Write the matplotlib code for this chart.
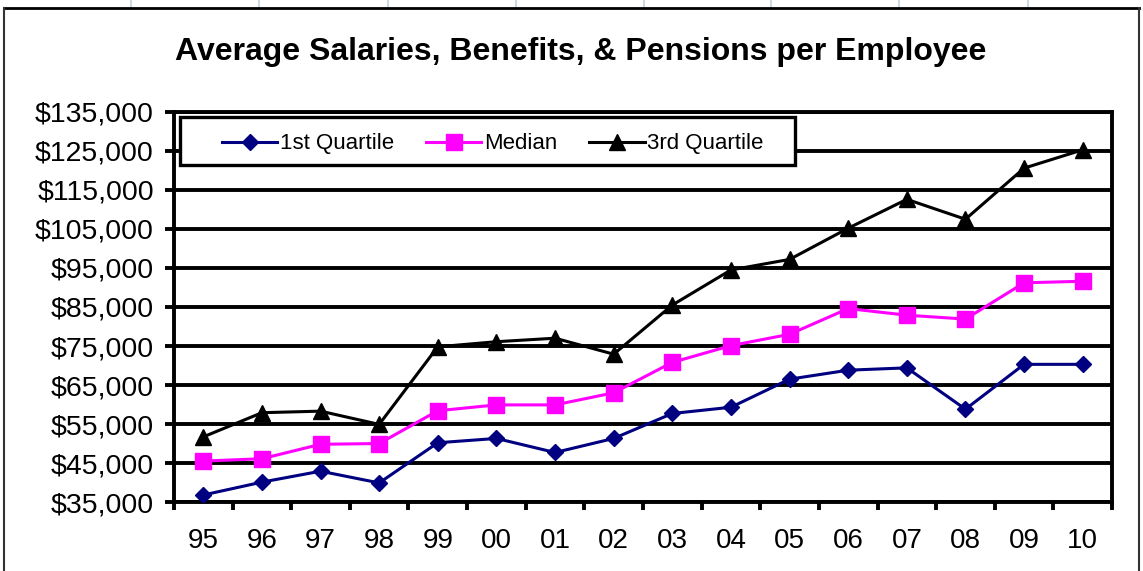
import numpy as np
import matplotlib.pyplot as plt
from matplotlib.lines import Line2D
from matplotlib.patches import Rectangle
from matplotlib.ticker import FuncFormatter, FixedLocator

plt.rcParams['font.family'] = ['Liberation Sans', 'DejaVu Sans']

# Data
years = ['95', '96', '97', '98', '99', '00', '01', '02',
         '03', '04', '05', '06', '07', '08', '09', '10']
q1 = [36800, 40100, 42900, 39900, 50200, 51300, 47700, 51300,
      57700, 59300, 66500, 68800, 69400, 58800, 70300, 70300]
median = [45500, 46100, 49800, 50000, 58400, 59900, 59900, 63000,
          70800, 75100, 78000, 84600, 82900, 81900, 91200, 91600]
q3 = [51700, 57900, 58300, 54900, 74800, 76100, 77000, 72900,
      85500, 94500, 97200, 105200, 112600, 107500, 120600, 125300]

y_ticks = np.arange(35000, 135001, 10000)

fig = plt.figure(figsize=(11.43, 5.71), dpi=100)
ax = fig.add_axes([0.1522, 0.1208, 0.8207, 0.6831])

x = np.arange(len(years))
ax.plot(x, q1, color='#000080', lw=2.2, marker='D', ms=8, label='1st Quartile', zorder=5)
ax.plot(x, median, color='#FF00FF', lw=2.2, marker='s', ms=12, label='Median', zorder=5)
ax.plot(x, q3, color='black', lw=2.2, marker='^', ms=11, label='3rd Quartile', zorder=5)

ax.set_xlim(-0.5, len(years) - 0.5)
ax.set_ylim(y_ticks[0], y_ticks[-1])
ax.set_yticks(y_ticks)
ax.yaxis.set_major_formatter(FuncFormatter(lambda v, p: '${:,.0f}'.format(v)))
ax.yaxis.grid(True, color='black', lw=2.8)
ax.set_axisbelow(True)

ax.set_xticks(x)
ax.set_xticklabels(years)
ax.xaxis.set_minor_locator(FixedLocator(np.arange(-0.5, len(years), 1.0)))
ax.tick_params(axis='x', which='major', length=0, pad=19, labelsize=20)
ax.tick_params(axis='x', which='minor', length=6, width=2.8, direction='out')
ax.tick_params(axis='y', length=6.5, width=2.8, pad=8, labelsize=20.5)

for s in ax.spines.values():
    s.set_linewidth(2.8)

# legend box drawn separately so the frame can be wider than its entries
ax.add_patch(Rectangle((0.0064, 0.864), 0.656, 0.123, transform=ax.transAxes,
                       facecolor='white', edgecolor='black', lw=2.4, zorder=6))
leg = ax.legend(loc='center', ncol=3, bbox_to_anchor=(0.3396, 0.918),
                fontsize=16, frameon=False, handlelength=2.5,
                handletextpad=0.1, columnspacing=1.45, borderaxespad=0)
leg.set_zorder(7)

fig.text(0.508, 0.909, 'Average Salaries, Benefits, & Pensions per Employee',
         ha='center', va='center', fontsize=23, fontweight='bold')

# spreadsheet column lines above the chart and the chart border
W, H = 1143, 571
for px in [131, 259, 388, 516, 644, 771, 899, 1028]:
    fig.add_artist(Line2D([px / W, px / W], [1, 1 - 7 / H], color='#d0d8e8', lw=1.5))
fig.add_artist(Line2D([4 / W, 1139 / W], [1 - 8 / H, 1 - 8 / H], color='black', lw=2))
fig.add_artist(Line2D([4 / W, 4 / W], [0, 1 - 8 / H], color='#333333', lw=1.5))
fig.add_artist(Line2D([1139 / W, 1139 / W], [0, 1 - 8 / H], color='#333333', lw=1.5))

fig.savefig('out.png', dpi=100, facecolor='white')
